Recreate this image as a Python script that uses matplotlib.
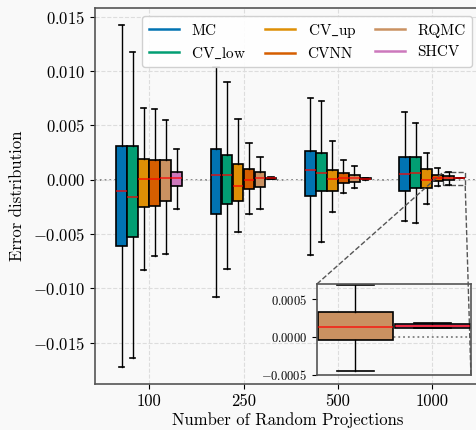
import matplotlib
matplotlib.use('Agg')
from matplotlib import pyplot as plt
from matplotlib.lines import Line2D
from matplotlib.ticker import FuncFormatter
from mpl_toolkits.axes_grid1.inset_locator import mark_inset

plt.rcParams['font.family'] = ['cmr10', 'DejaVu Serif']
plt.rcParams['mathtext.fontset'] = 'cm'
plt.rcParams['axes.formatter.use_mathtext'] = True
plt.rcParams['font.size'] = 12

groups = ['100', '250', '500', '1000']
methods = ['MC', r'CV$\_$low', r'CV$\_$up', 'CVNN', 'RQMC', 'SHCV']
colors = ['#0173b2', '#029e73', '#de8f05', '#d55e00', '#ca9161', '#cc78bc']

# (whisker low, q1, median, q3, whisker high) per group
MC = [(-0.01727, -0.00607, -0.00103, 0.00309, 0.01419),
      (-0.01075, -0.00312, 0.00042, 0.00279, 0.01040),
      (-0.00696, -0.00152, 0.00090, 0.00266, 0.00749),
      (-0.00376, -0.00100, 0.00051, 0.00210, 0.00625)]
CV_low = [(-0.01644, -0.00528, -0.00159, 0.00309, 0.01173),
          (-0.00823, -0.00220, 0.00042, 0.00229, 0.00897),
          (-0.00574, -0.00103, 0.00063, 0.00242, 0.00721),
          (-0.00395, -0.00081, 0.00063, 0.00210, 0.00521)]
CV_up = [(-0.00829, -0.00254, 0.00005, 0.00192, 0.00662),
         (-0.00482, -0.00198, -0.00060, 0.00143, 0.00555),
         (-0.00297, -0.00106, 0.00005, 0.00090, 0.00358),
         (-0.00226, -0.00076, -0.00005, 0.00097, 0.00242)]
CVNN = [(-0.00699, -0.00238, 0.00005, 0.00180, 0.00653),
        (-0.00318, -0.00088, -0.00005, 0.00097, 0.00340),
        (-0.00122, -0.00032, 0.00011, 0.00066, 0.00183),
        (-0.00057, -0.00008, 0.00017, 0.00039, 0.00109)]
RQMC = [(-0.00687, -0.00195, 0.00017, 0.00180, 0.00552),
        (-0.00269, -0.00066, 0.00020, 0.00072, 0.00205),
        (-0.00076, -0.00020, 0.00017, 0.00044, 0.00122),
        (-0.00045, -0.000035, 0.000133, 0.000325, 0.00069)]
SHCV = [(-0.00272, -0.00060, 0.00020, 0.00072, 0.00284),
        (0.00002, 0.00008, 0.00012, 0.00016, 0.00025),
        (0.00000, 0.00007, 0.00010, 0.00013, 0.00020),
        (0.00012, 0.000125, 0.000145, 0.000175, 0.00018)]
all_stats = [MC, CV_low, CV_up, CVNN, RQMC, SHCV]

bg = '#f9f9f9'
w = 0.7 / len(methods)

fig = plt.figure(figsize=(4.77, 4.30), dpi=100, facecolor=bg)
ax = fig.add_axes([0.1992, 0.107, 0.8063, 0.8744], facecolor=bg)


def draw_boxes(a):
    for i, (st, c) in enumerate(zip(all_stats, colors)):
        stats = [dict(whislo=s[0], q1=s[1], med=s[2], q3=s[3], whishi=s[4])
                 for s in st]
        pos = [g + (i - 2.5) * w for g in range(len(groups))]
        a.bxp(stats, positions=pos, widths=w * 0.97, showfliers=False,
              patch_artist=True, manage_ticks=False,
              boxprops=dict(facecolor=c, edgecolor='black', linewidth=1.2),
              medianprops=dict(color='red', linewidth=1.3, alpha=0.7),
              whiskerprops=dict(color='black', linewidth=1.0),
              capprops=dict(color='black', linewidth=1.2))


draw_boxes(ax)
ax.axhline(0, color='gray', ls=':', lw=1.3, zorder=0)
ax.set_xticks(range(len(groups)))
ax.set_xticklabels(groups)
ax.set_xlim(-0.576, 3.503)
ax.set_ylim(-0.0188, 0.0158)
ax.grid(True, ls='--', color='#dddddd', lw=0.8)
ax.set_axisbelow(True)
for s in ax.spines.values():
    s.set_color('#555555')
    s.set_linewidth(1.2)
ax.set_xlabel('Number of Random Projections', labelpad=2)
ax.set_ylabel('Error distribution', labelpad=6)

handles = [Line2D([], [], color=c, lw=1.8) for c in colors]
ax.legend(handles, methods, ncol=3, loc='upper right', fontsize=11,
          edgecolor='#cccccc', facecolor='white', framealpha=0.9,
          columnspacing=1.2, handlelength=2.0, handletextpad=0.8)

axins = ax.inset_axes([0.577, 0.024, 0.4004, 0.242])
axins.set_facecolor('none')
draw_boxes(axins)
axins.axhline(0, color='gray', ls=':', lw=1.3, zorder=0)
axins.set_xlim(3 + w, 3 + 3 * w)
axins.set_ylim(-0.0005, 0.0007)
axins.set_xticks([])
axins.set_yticks([-0.0005, 0.0, 0.0005])
axins.yaxis.set_major_formatter(FuncFormatter(lambda v, p: '$%.4f$' % v))
axins.tick_params(labelsize=9)
for s in axins.spines.values():
    s.set_color('#555555')
    s.set_linewidth(1.2)
mark_inset(ax, axins, loc1=2, loc2=4, fc='none', ec='#555555', ls='--', lw=1.0)

fig.savefig('out.png', dpi=100, facecolor=bg)
